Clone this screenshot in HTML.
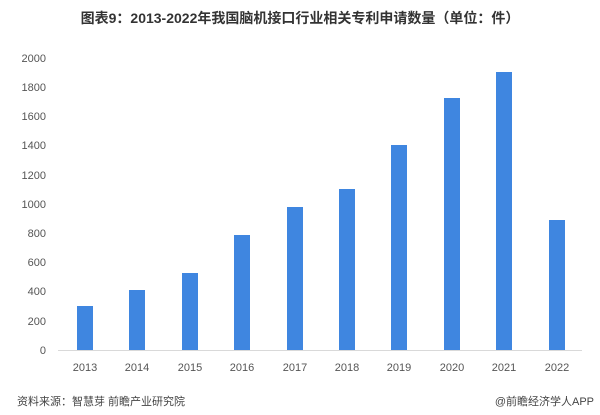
<!DOCTYPE html>
<html><head><meta charset="utf-8"><style>
body{margin:0;width:600px;height:415px;background:#fff;font-family:"Liberation Sans","Noto Sans CJK SC",sans-serif;overflow:hidden;position:relative}
</style></head><body>
<svg width="600" height="415" xmlns="http://www.w3.org/2000/svg" style="position:absolute;left:0;top:0">
<text x="300" y="23" text-anchor="middle" font-size="14" font-weight="bold" fill="#333" font-family="Liberation Sans,Noto Sans CJK SC,sans-serif">图表9：2013-2022年我国脑机接口行业相关专利申请数量（单位：件）</text>
<g font-size="11" fill="#555" text-anchor="end" font-family="Liberation Sans,sans-serif">
<text x="46" y="62">2000</text><text x="46" y="91">1800</text><text x="46" y="120">1600</text><text x="46" y="149">1400</text><text x="46" y="179">1200</text><text x="46" y="208">1000</text><text x="46" y="237">800</text><text x="46" y="266">600</text><text x="46" y="295">400</text><text x="46" y="325">200</text><text x="46" y="354">0</text>
</g>
<line x1="58" y1="350.5" x2="582" y2="350.5" stroke="#d9d9d9" stroke-width="1"/>
<g fill="#3f86e0">
<rect x="77" y="306" width="16" height="44"/>
<rect x="129" y="290" width="16" height="60"/>
<rect x="182" y="273" width="16" height="77"/>
<rect x="234" y="235" width="16" height="115"/>
<rect x="287" y="207" width="16" height="143"/>
<rect x="339" y="189" width="16" height="161"/>
<rect x="391" y="145" width="16" height="205"/>
<rect x="444" y="98" width="16" height="252"/>
<rect x="496" y="72" width="16" height="278"/>
<rect x="549" y="220" width="16" height="130"/>
</g>
<g font-size="11" fill="#555" text-anchor="middle" font-family="Liberation Sans,sans-serif">
<text x="85" y="371">2013</text><text x="137" y="371">2014</text><text x="190" y="371">2015</text><text x="242" y="371">2016</text><text x="295" y="371">2017</text><text x="347" y="371">2018</text><text x="399" y="371">2019</text><text x="452" y="371">2020</text><text x="504" y="371">2021</text><text x="557" y="371">2022</text>
</g>
<text x="17" y="405" font-size="11" fill="#444" font-family="Liberation Sans,Noto Sans CJK SC,sans-serif">资料来源：智慧芽 前瞻产业研究院</text>
<text x="594" y="405" font-size="11" fill="#444" text-anchor="end" font-family="Liberation Sans,Noto Sans CJK SC,sans-serif">@前瞻经济学人APP</text>
</svg>
</body></html>
